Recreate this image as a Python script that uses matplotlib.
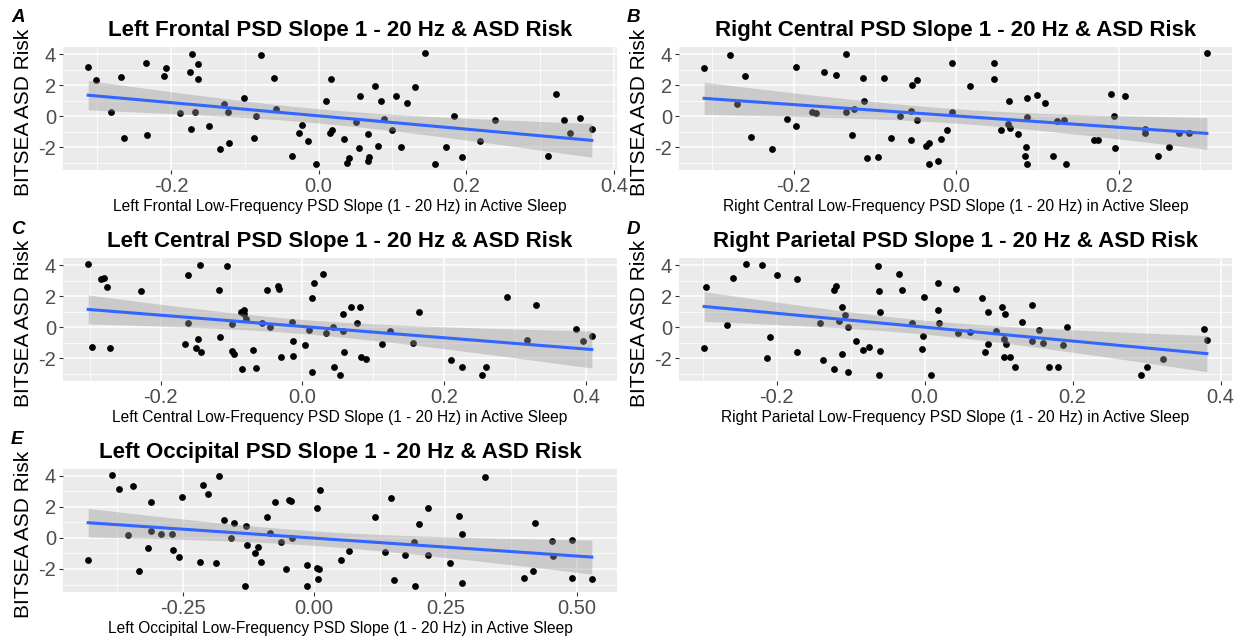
import numpy as np
import matplotlib
matplotlib.use("Agg")
import matplotlib.pyplot as plt

plt.rcParams['font.family'] = ['Liberation Sans', 'DejaVu Sans']

# ---- data ----
a_x = [-0.312, -0.302, -0.281, -0.267, -0.263, -0.234, -0.233, -0.210, -0.207, -0.188,
       -0.174, -0.171, -0.173, -0.167, -0.163, -0.163, -0.148, -0.133, -0.128, -0.122,
       -0.121, -0.101, -0.087, -0.085, -0.078, -0.060, -0.058, -0.036, -0.027, -0.023,
       -0.014, -0.003, 0.010, 0.017, 0.015, 0.018, 0.035, 0.041, 0.038, 0.050,
       0.056, 0.055, 0.067, 0.068, 0.067, 0.076, 0.080, 0.084, 0.088, 0.099,
       0.105, 0.112, 0.120, 0.130, 0.1445, 0.158, 0.173, 0.184, 0.194, 0.219,
       0.239, 0.311, 0.321, 0.332, 0.340, 0.354, 0.370]
a_y = [3.17, 2.35, 0.26, 2.57, -1.36, 3.46, -1.21, 2.61, 3.11, 0.22,
       2.85, 4.00, -0.78, 0.28, 3.39, 2.38, -0.60, -2.10, 0.82, 0.26,
       -1.73, 1.17, -1.36, 0.04, 3.97, 2.48, 0.48, -2.55, -1.08, -0.56,
       -1.58, -3.09, 0.99, 2.44, -1.04, -0.86, -1.47, -2.70, -3.02, -0.35,
       1.34, -2.05, -1.10, -2.59, -2.87, 1.99, -1.88, 1.02, -0.15, -0.89,
       1.34, -1.94, 0.86, 1.92, 4.11, -3.09, -1.96, 0.05, -2.59, -1.57,
       -0.24, -2.55, 1.45, -0.26, -1.06, -0.08, -0.84]

b_x = [-0.310, -0.278, -0.270, -0.260, -0.253, -0.226, -0.208, -0.197, -0.197, -0.178,
       -0.172, -0.163, -0.148, -0.136, -0.136, -0.128, -0.126, -0.115, -0.113, -0.110,
       -0.096, -0.089, -0.080, -0.069, -0.056, -0.056, -0.054, -0.048, -0.048, -0.037,
       -0.034, -0.033, -0.023, -0.019, -0.011, -0.005, -0.005, 0.017, 0.046, 0.046,
       0.055, 0.063, 0.065, 0.066, 0.076, 0.086, 0.085, 0.087, 0.087, 0.087,
       0.099, 0.109, 0.119, 0.124, 0.1325, 0.1346, 0.169, 0.174, 0.190, 0.194,
       0.195, 0.2077, 0.232, 0.232, 0.2475, 0.262, 0.274, 0.2865, 0.308]
b_y = [3.11, 3.97, 0.78, 2.59, -1.34, -2.10, -0.17, -0.63, 3.20, 0.28,
       0.24, 2.87, 2.66, 4.02, 0.28, -1.19, 0.48, 2.44, 0.99, -2.70,
       -2.59, 2.46, -1.36, 0.04, 0.37, -1.51, 1.99, 2.35, -0.24, -1.88,
       -1.73, -3.05, -2.89, -1.47, -0.89, 3.41, 0.30, 1.92, 3.46, 2.40,
       -0.86, -0.50, 0.99, -0.76, -1.12, -1.94, -2.57, -3.05, 1.17, -0.04,
       1.38, 0.89, -2.57, -0.32, -0.24, -3.09, -1.53, -1.53, 1.45, 0.04,
       -2.05, 1.34, -0.80, -1.06, -2.57, -1.97, -1.04, -1.08, 4.10]

c_x = [-0.302, -0.296, -0.284, -0.280, -0.275, -0.271, -0.228, -0.161, -0.161, -0.165,
       -0.147, -0.150, -0.144, -0.143, -0.118, -0.116, -0.106, -0.099, -0.099, -0.096,
       -0.086, -0.083, -0.082, -0.080, -0.085, -0.070, -0.066, -0.057, -0.050, -0.045,
       -0.035, -0.033, -0.030, -0.014, -0.013, -0.013, 0.003, 0.009, 0.013, 0.016,
       0.013, 0.029, 0.033, 0.043, 0.045, 0.053, 0.057, 0.057, 0.059, 0.068,
       0.077, 0.081, 0.082, 0.089, 0.112, 0.123, 0.156, 0.164, 0.209, 0.2246,
       0.253, 0.2586, 0.288, 0.3166, 0.330, 0.386, 0.396, 0.408]
c_y = [4.10, -1.25, 3.09, 3.17, 2.57, -1.36, 2.31, 3.39, 0.26, -1.08,
       -0.78, -1.36, 4.00, -1.58, 2.38, -0.65, 3.95, 0.19, -1.53, -1.75,
       0.97, 1.12, 0.82, 0.54, -2.72, -1.49, -2.61, 0.26, 2.42, 0.04,
       2.63, 2.46, -1.94, 0.35, -0.91, -1.88, -1.14, -0.19, 1.90, 2.83,
       -2.92, 3.46, -0.39, 0.04, -2.57, -3.07, -0.26, 0.86, -1.58, 1.32,
       0.26, 1.32, -1.94, -2.07, -1.10, -0.26, -1.04, 0.97, -2.12, -2.59,
       -3.11, -2.55, 1.94, -0.84, 1.45, -0.11, -0.86, -0.58]

d_x = [-0.298, -0.295, -0.267, -0.259, -0.2415, -0.220, -0.2135, -0.209, -0.200, -0.1725,
       -0.173, -0.141, -0.137, -0.123, -0.120, -0.123, -0.116, -0.111, -0.107, -0.1115,
       -0.103, -0.104, -0.0925, -0.0826, -0.0745, -0.063, -0.061, -0.060, -0.0605, -0.062,
       -0.035, -0.031, -0.0167, -0.004, -0.0005, -0.0023, 0.0086, 0.018, 0.018, 0.020,
       0.042, 0.0456, 0.062, 0.078, 0.081, 0.086, 0.086, 0.0966, 0.104, 0.107,
       0.108, 0.110, 0.107, 0.116, 0.122, 0.131, 0.1445, 0.145, 0.155, 0.160,
       0.168, 0.1806, 0.1865, 0.193, 0.292, 0.301, 0.322, 0.377, 0.3815]
d_y = [-1.36, 2.57, 0.17, 3.17, 4.10, 4.00, -1.97, -0.65, 3.39, 3.09,
       -1.60, 0.24, -2.12, 2.38, 2.63, -2.72, 0.43, 1.32, 0.76, -1.75,
       0.02, -2.92, -0.89, -1.47, -1.25, 3.95, 2.31, 0.95, -1.53, -3.09,
       3.46, 2.42, 0.28, -1.38, 1.94, -0.58, -3.09, 2.85, 1.12, 0.26,
       2.44, -0.39, -0.28, 1.90, -1.60, 0.97, -1.10, -0.22, 1.30, -0.78,
       0.86, -1.06, -1.94, -1.90, -2.57, 0.32, -0.89, 1.45, -0.17, -1.04,
       -2.59, -2.59, -1.14, 0.04, -3.11, -2.57, -2.07, -0.11, -0.82]

e_x = [-0.430, -0.385, -0.372, -0.355, -0.345, -0.3335, -0.317, -0.3106, -0.3106, -0.292,
       -0.271, -0.268, -0.258, -0.251, -0.2175, -0.211, -0.202, -0.1875, -0.180, -0.172,
       -0.159, -0.152, -0.132, -0.129, -0.128, -0.113, -0.1065, -0.101, -0.0886, -0.0835,
       -0.074, -0.062, -0.053, -0.048, -0.044, -0.041, -0.014, -0.0134, 0.005, 0.005,
       0.008, 0.010, 0.011, 0.051, 0.066, 0.1167, 0.136, 0.1467, 0.152, 0.174,
       0.192, 0.190, 0.1996, 0.2175, 0.2175, 0.259, 0.276, 0.281, 0.281, 0.326,
       0.4005, 0.4177, 0.4215, 0.453, 0.456, 0.4917, 0.4917, 0.529]
e_y = [-1.40, 4.06, 3.14, 0.17, 3.35, -2.15, -0.65, 2.32, 0.43, 0.22,
       0.22, -0.80, -1.25, 2.60, -1.53, 3.40, 2.82, -1.61, 3.94, 1.14,
       0.00, 0.95, -3.10, 0.75, -0.43, -0.95, -0.60, -1.55, 1.31, 0.32,
       2.28, -0.30, -2.02, 2.43, 2.39, 0.00, -1.72, -3.10, 1.89, -1.91,
       -2.65, -1.98, 3.05, -1.40, -0.84, 1.31, -0.90, 2.54, -2.73, -1.12,
       -3.12, -0.28, 0.86, 1.94, -1.08, -1.61, 1.42, 0.24, -2.90, 3.89,
       -2.58, -2.13, 0.92, -0.19, -1.18, -0.11, -2.58, -2.62]

titles = ["Left Frontal PSD Slope 1 - 20 Hz & ASD Risk",
          "Right Central PSD Slope 1 - 20 Hz & ASD Risk",
          "Left Central PSD Slope 1 - 20 Hz & ASD Risk",
          "Right Parietal PSD Slope 1 - 20 Hz & ASD Risk",
          "Left Occipital PSD Slope 1 - 20 Hz & ASD Risk"]
xlabels = ["Left Frontal Low-Frequency PSD Slope (1 - 20 Hz) in Active Sleep",
           "Right Central Low-Frequency PSD Slope (1 - 20 Hz) in Active Sleep",
           "Left Central Low-Frequency PSD Slope (1 - 20 Hz) in Active Sleep",
           "Right Parietal Low-Frequency PSD Slope (1 - 20 Hz) in Active Sleep",
           "Left Occipital Low-Frequency PSD Slope (1 - 20 Hz) in Active Sleep"]
letters = ["A", "B", "C", "D", "E"]
xticks = [[-0.2, 0.0, 0.2, 0.4], [-0.2, 0.0, 0.2], [-0.2, 0.0, 0.2, 0.4],
          [-0.2, 0.0, 0.2, 0.4], [-0.25, 0.0, 0.25, 0.5]]
xticklabels = [["-0.2", "0.0", "0.2", "0.4"], ["-0.2", "0.0", "0.2"],
               ["-0.2", "0.0", "0.2", "0.4"], ["-0.2", "0.0", "0.2", "0.4"],
               ["-0.25", "0.00", "0.25", "0.50"]]
yticks = [-2, 0, 2, 4]
yticklabels = ["-2", "0", "2", "4"]

W, H = 1249, 641
# panel boxes in pixels: left, top, right, bottom
boxes = [(63, 47, 617, 170), (679, 47, 1232, 170),
         (63, 258, 617, 381), (679, 258, 1232, 381),
         (63, 469, 617, 592)]

fig = plt.figure(figsize=(W / 100, H / 100), dpi=100)
fig.patch.set_facecolor('white')

series = [(a_x, a_y), (b_x, b_y), (c_x, c_y), (d_x, d_y), (e_x, e_y)]

for i, (xs, ys) in enumerate(series):
    l, t, r, b = boxes[i]
    ax = fig.add_axes([l / W, 1 - b / H, (r - l) / W, (b - t) / H])
    x = np.array(xs)
    y = np.array(ys)
    ax.set_facecolor('#EBEBEB')
    for s in ax.spines.values():
        s.set_visible(False)

    ax.scatter(x, y, s=24, color='black', linewidths=0, zorder=2)

    # linear fit with 95% band (like geom_smooth(method='lm'))
    slope, icpt = np.polyfit(x, y, 1)
    xx = np.linspace(x.min(), x.max(), 100)
    fit = icpt + slope * xx
    n = len(x)
    resid = y - (icpt + slope * x)
    sd = np.sqrt(np.sum(resid ** 2) / (n - 2))
    se = sd * np.sqrt(1 / n + (xx - x.mean()) ** 2 / np.sum((x - x.mean()) ** 2))
    ax.fill_between(xx, fit - 1.99 * se, fit + 1.99 * se, color='#999999',
                    alpha=0.4, linewidth=0, zorder=3)
    ax.plot(xx, fit, color='#3366FF', lw=2.2, zorder=4)

    xt = xticks[i]
    step = xt[1] - xt[0]
    ax.set_xticks(xt)
    ax.set_xticklabels(xticklabels[i])
    ax.set_xticks(np.arange(xt[0] - step * 1.5, xt[-1] + step, step), minor=True)
    ax.set_yticks(yticks)
    ax.set_yticklabels(yticklabels)
    ax.set_yticks([-3, -1, 1, 3], minor=True)

    # ggplot-style 5% expansion, set after ticks so they don't widen the view
    xr = x.max() - x.min()
    yr = y.max() - y.min()
    ax.set_xlim(x.min() - 0.05 * xr, x.max() + 0.05 * xr)
    ax.set_ylim(y.min() - 0.05 * yr, y.max() + 0.05 * yr)

    ax.set_axisbelow(True)
    ax.grid(which='major', color='white', lw=1.1)
    ax.grid(which='minor', color='white', lw=0.55)
    ax.tick_params(which='major', length=3, width=0.8, color='#333333',
                   labelcolor='#4D4D4D', labelsize=14.5, pad=2)
    ax.tick_params(which='minor', length=0)

    ax.set_title(titles[i], fontsize=16, fontweight='bold', pad=8)
    ax.set_xlabel(xlabels[i], fontsize=11.2, labelpad=2)
    ax.set_ylabel("BITSEA ASD Risk", fontsize=15)
    ax.yaxis.set_label_coords(-0.054, 0.47)

    fig.text((l - 52) / W, 1 - (t - 29) / H, letters[i], fontsize=13.5,
             fontweight='bold', style='italic', ha='left', va='center')

fig.savefig('out.png', dpi=100, facecolor='white')
